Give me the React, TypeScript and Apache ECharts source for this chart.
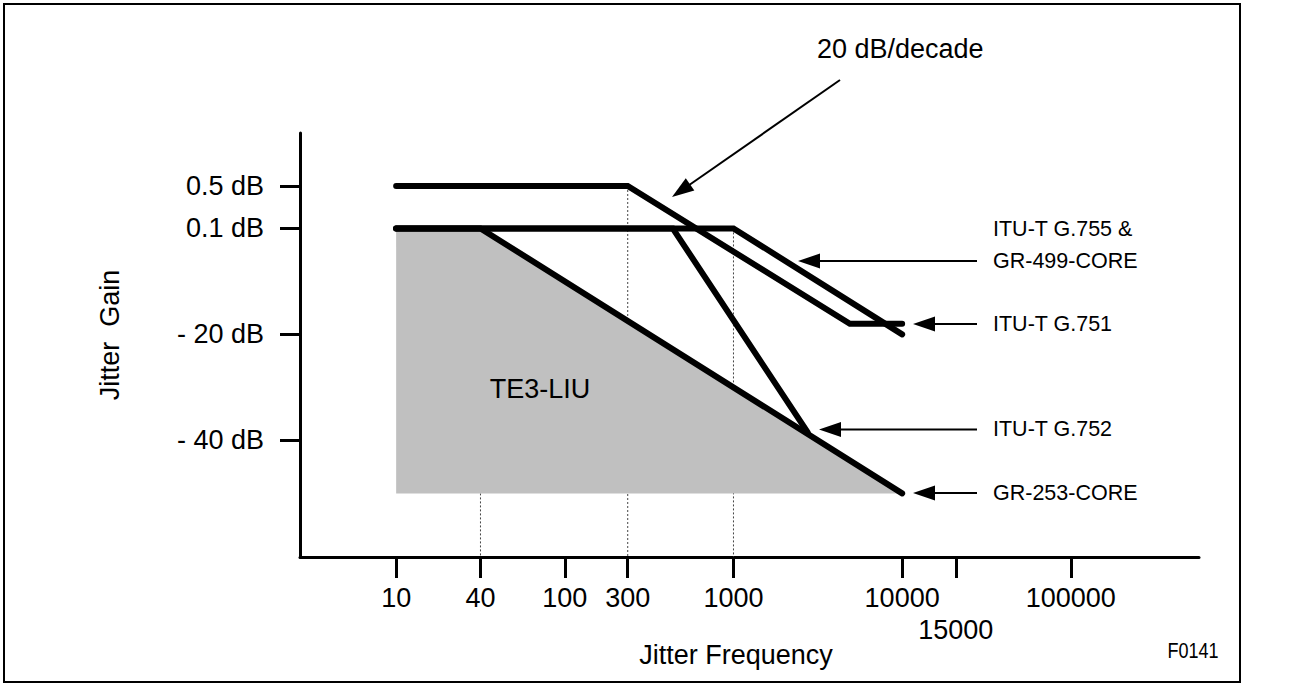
import React, { useEffect, useRef } from "react";
import * as echarts from "echarts";

// x positions are decade positions on the (schematic) log frequency axis
const xTickPos = [1, 1.5, 2, 2.373, 3, 4, 4.318, 5];
const xTickLabels = ["10", "40", "100", "300", "1000", "10000", "15000", "100000"];
// y positions on the (schematic) gain axis
const yTickPos = [8, 0, -20, -40];
const yTickLabels = ["0.5 dB", "0.1 dB", "- 20 dB", "- 40 dB"];

// jitter transfer masks: [decade position, gain position]
const g751 = [[1, 8], [2.373, 8], [3.69, -18], [4, -18]];
const g755 = [[1, 0], [3, 0], [4, -20]];
const g752 = [[1, 0], [2.64, 0], [3.44, -38.5]];
const gr253 = [[1, 0], [1.5, 0], [4, -50]];
// TE3-LIU region
const te3liu = [[1, 0], [1.5, 0], [4, -50]];
const te3liuFloor = -50;
// dotted drop lines
const drop40 = [[1.5, -50], [1.5, -62]];
const drop300 = [[2.373, 8], [2.373, -62]];
const drop1000 = [[3, 0], [3, -62]];

const FONT = "'Liberation Sans', Arial, sans-serif";

function arrow(x1: number, y1: number, x2: number, y2: number) {
  const L = 22, W = 7.5;
  const dx = x2 - x1, dy = y2 - y1;
  const len = Math.sqrt(dx * dx + dy * dy);
  const ux = dx / len, uy = dy / len;
  const bx = x2 - ux * L, by = y2 - uy * L;
  const nx = -uy, ny = ux;
  return [
    { type: "line", z: 10, shape: { x1, y1, x2: bx + ux, y2: by + uy }, style: { stroke: "#000", lineWidth: 2 } },
    {
      type: "polygon",
      z: 10,
      shape: { points: [[x2, y2], [bx + nx * W, by + ny * W], [bx - nx * W, by - ny * W]] },
      style: { fill: "#000" },
    },
  ];
}

function txt(text: string, x: number, y: number, size: number, align = "left", extra: any = {}) {
  const { fontFamily, ...rest } = extra;
  return {
    type: "text",
    x,
    y,
    z: 10,
    ...rest,
    style: { text, fill: "#000", fontSize: size, fontFamily: fontFamily || FONT, align, verticalAlign: "middle" },
  };
}

export default function App() {
  const ref = useRef<HTMLDivElement>(null);
  useEffect(() => {
    if (!ref.current) return;
    const chart = echarts.init(ref.current, undefined, { renderer: "svg" });
    const maskLine = (name: string, data: number[][]) => ({
      name,
      type: "line",
      data,
      symbol: "none",
      z: 4,
      silent: true,
      lineStyle: { color: "#000", width: 6, cap: "round", join: "miter" },
    });
    const dropLine = (data: number[][]) => ({
      type: "line",
      data,
      symbol: "none",
      z: 1,
      silent: true,
      lineStyle: { color: "#444", width: 1, type: [2, 2] },
    });
    const findLabel = (pos: number[], labels: string[], v: number) => {
      const i = pos.findIndex((p) => Math.abs(p - v) < 1e-6);
      return i >= 0 ? labels[i] : "";
    };
    chart.setOption({
      animation: false,
      backgroundColor: "#fff",
      grid: { left: 300, top: 133, width: 899, height: 424, containLabel: false, outerBoundsMode: "none" },
      xAxis: {
        type: "value",
        min: 0.43,
        max: 5.76,
        splitLine: { show: false },
        axisLine: { show: true, onZero: false, lineStyle: { color: "#000", width: 3 } },
        axisTick: { show: true, customValues: xTickPos, length: 21, lineStyle: { color: "#000", width: 3 } },
        axisLabel: {
          customValues: xTickPos,
          margin: 25,
          fontSize: 27,
          lineHeight: 32,
          fontFamily: FONT,
          color: "#000",
          formatter: (v: number) => {
            const l = findLabel(xTickPos, xTickLabels, v);
            return l === "15000" ? "\n" + l : l;
          },
        },
      },
      yAxis: {
        type: "value",
        min: -62,
        max: 18,
        splitLine: { show: false },
        axisLine: { show: true, onZero: false, lineStyle: { color: "#000", width: 3 } },
        axisTick: { show: true, customValues: yTickPos, length: 20, lineStyle: { color: "#000", width: 3 } },
        axisLabel: {
          customValues: yTickPos,
          margin: 36,
          fontSize: 27,
          fontFamily: FONT,
          color: "#000",
          formatter: (v: number) => findLabel(yTickPos, yTickLabels, v),
        },
      },
      series: [
        dropLine(drop40),
        dropLine(drop300),
        dropLine(drop1000),
        {
          name: "TE3-LIU",
          type: "line",
          data: te3liu,
          symbol: "none",
          z: 2,
          silent: true,
          lineStyle: { width: 0, opacity: 0 },
          areaStyle: { color: "#c0c0c0", opacity: 1, origin: te3liuFloor },
        },
        maskLine("ITU-T G.751", g751),
        maskLine("ITU-T G.755 & GR-499-CORE", g755),
        maskLine("ITU-T G.752", g752),
        maskLine("GR-253-CORE", gr253),
      ],
      graphic: [
        { type: "rect", z: 10, shape: { x: 4, y: 4, width: 1236, height: 678 }, style: { fill: "none", stroke: "#000", lineWidth: 2 } },
        txt("Jitter\u00a0 Gain", 110, 335, 27, "center", { rotation: Math.PI / 2 }),
        txt("Jitter Frequency", 736, 655, 27, "center"),
        txt("F0141", 1193, 650, 22, "center", { scaleX: 0.82 }),
        txt("TE3-LIU", 540, 389, 27, "center"),
        txt("20 dB/decade", 817, 49, 27, "left"),
        txt("ITU-T G.755 &", 993, 229, 21.5),
        txt("GR-499-CORE", 993, 260.5, 21.5),
        txt("ITU-T G.751", 993, 324, 21.5),
        txt("ITU-T G.752", 993, 429, 21.5),
        txt("GR-253-CORE", 993, 493, 21.5),
        ...arrow(840, 80, 672, 197),
        ...arrow(977, 261, 798, 261),
        ...arrow(977, 324, 913, 324),
        ...arrow(977, 429.5, 819, 429.5),
        ...arrow(977, 493, 913, 493),
      ],
    });
    return () => chart.dispose();
  }, []);
  return (
    <div
      ref={ref}
      style={{ position: "fixed", left: 0, top: 0, width: 1295, height: 688, background: "#fff" }}
    />
  );
}
